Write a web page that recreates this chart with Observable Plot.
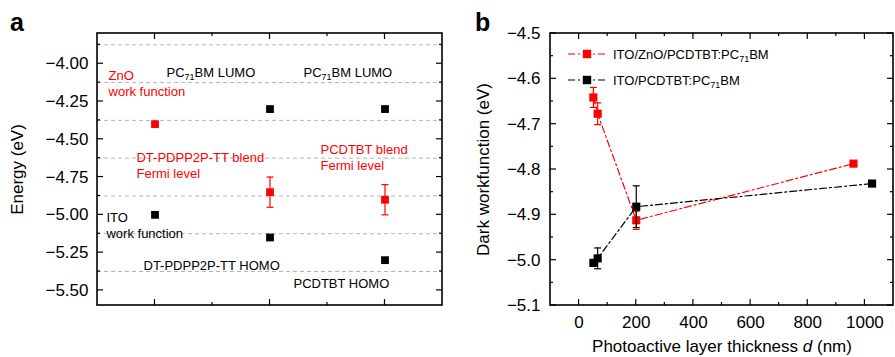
<!DOCTYPE html>
<html><head><meta charset="utf-8">
<script src="https://cdn.jsdelivr.net/npm/d3@7"></script>
<script src="https://cdn.jsdelivr.net/npm/@observablehq/plot@0.6"></script>
<style>
html,body{margin:0;padding:0;background:#fff;}
#wrap{width:895px;height:357px;overflow:hidden;}
</style></head><body><div id="wrap"></div>
<script>
// ---------- Panel a data ----------
const blackX = [1, 2, 2, 3, 3];
const blackE = [-5.00, -4.30, -5.15, -4.30, -5.30];
const redX = [1, 2, 3];
const redE = [-4.40, -4.85, -4.90];
const redErr = [0, 0.10, 0.10];
const energyDomain = [-5.6, -3.8];
const energyTicks = [-4.00, -4.25, -4.50, -4.75, -5.00, -5.25, -5.50];
const energyMinor = [-3.875, -4.125, -4.375, -4.625, -4.875, -5.125, -5.375];
const gridLevels = [-3.875, -4.125, -4.375, -4.625, -4.875, -5.125, -5.375];
const xDomainA = [0.5, 3.5];
const xMajorA = [1, 2, 3];
const xMinorA = [1.5, 2.5];
const labelsRed = [
  {text: "ZnO\nwork function", x: 0.596, y: -4.129},
  {text: "DT-PDPP2P-TT blend\nFermi level", x: 0.839, y: -4.671},
  {text: "PCDTBT blend\nFermi level", x: 2.439, y: -4.618}
];
const labelsBlack = [
  {text: "PC71BM LUMO", x: 1.100, y: -4.053},
  {text: "PC71BM LUMO", x: 2.291, y: -4.053},
  {text: "ITO\nwork function", x: 0.578, y: -5.067},
  {text: "DT-PDPP2P-TT HOMO", x: 0.900, y: -5.329},
  {text: "PCDTBT HOMO", x: 2.204, y: -5.449}
];

// ---------- Panel b data ----------
const thickRed = [50, 65, 200, 960];
const wfRed = [-4.641, -4.677, -4.912, -4.787];
const errRed = [0.022, 0.024, 0.02, 0];
const thickBlack = [50, 65, 200, 1025];
const wfBlack = [-5.006, -4.996, -4.882, -4.831];
const errBlack = [0, 0.023, 0.046, 0];
const thickDomain = [-100, 1100];
const wfDomain = [-5.1, -4.5];
const thickTicks = [0, 200, 400, 600, 800, 1000];
const thickMinor = [100, 300, 500, 700, 900];
const wfTicks = [-4.5, -4.6, -4.7, -4.8, -4.9, -5.0, -5.1];
const wfMinor = [-4.55, -4.65, -4.75, -4.85, -4.95, -5.05];
const seriesNames = ["ITO/ZnO/PCDTBT:PC71BM", "ITO/PCDTBT:PC71BM"];
const seriesColors = ["red", "black"];

const FONT = "'Liberation Sans', Arial, Helvetica, sans-serif";
const DASH = "7,3,2,3";
const capSymbol = {draw(ctx) { ctx.moveTo(-3.5, 0); ctx.lineTo(3.5, 0); }};

// Frame and inward ticks, placed with each plot's own scales, drawn in the outer svg
function decorate(outer, plot, offsetX, xMaj, xMin, yMaj, yMin) {
  const sx = plot.scale("x"), sy = plot.scale("y");
  const [x0, x1] = sx.range, [y0, y1] = sy.range;
  const L = Math.min(x0, x1), R = Math.max(x0, x1), T = Math.min(y0, y1), B = Math.max(y0, y1);
  const g = outer.append("g").attr("transform", `translate(${offsetX},0)`)
    .attr("stroke", "#000").attr("fill", "none");
  const seg = (a, b, c, d, w) => g.append("line").attr("x1", a).attr("y1", b).attr("x2", c).attr("y2", d).attr("stroke-width", w);
  [[xMaj, 6], [xMin, 3]].forEach(([vals, len]) => vals.forEach(v => {
    const x = sx.apply(v);
    seg(x, B, x, B - len, 1.2); seg(x, T, x, T + len, 1.2);
  }));
  [[yMaj, 6], [yMin, 3]].forEach(([vals, len]) => vals.forEach(v => {
    const y = sy.apply(v);
    seg(L, y, L + len, y, 1.2); seg(R, y, R - len, y, 1.2);
  }));
  g.append("rect").attr("x", L).attr("y", T).attr("width", R - L).attr("height", B - T).attr("stroke-width", 1.6);
}

function errData(xs, ys, es) {
  return xs.map((x, i) => ({x, y: ys[i], err: es[i]})).filter(d => d.err > 0);
}
function capData(xs, ys, es) {
  return errData(xs, ys, es).flatMap(d => [{x: d.x, y: d.y - d.err}, {x: d.x, y: d.y + d.err}]);
}

function richText(svg) {
  d3.select(svg).selectAll("text, tspan").each(function() {
    if (this.children.length) return;
    const s = this.textContent;
    const sel = d3.select(this);
    if (s.includes("PC71BM")) {
      const i = s.indexOf("PC71BM") + 2;
      this.textContent = "";
      sel.append("tspan").text(s.slice(0, i));
      sel.append("tspan").attr("dy", 3).attr("font-size", 9).text("71");
      sel.append("tspan").attr("dy", -3).text(s.slice(i + 2));
    } else if (s.includes(" d (nm)")) {
      const i = s.indexOf(" d (nm)");
      this.textContent = "";
      sel.append("tspan").text(s.slice(0, i + 1));
      sel.append("tspan").attr("font-style", "italic").text("d");
      sel.append("tspan").text(s.slice(i + 2));
    }
  });
}

const outer = d3.select("#wrap").append("svg")
  .attr("width", 895).attr("height", 357).attr("viewBox", "0 0 895 357")
  .style("display", "block").style("background", "white")
  .attr("font-family", FONT);
outer.append("rect").attr("width", 895).attr("height", 357).attr("fill", "white");

// ---------- Panel a ----------
const blackA = blackX.map((x, i) => ({x, y: blackE[i]}));
const redA = redX.map((x, i) => ({x, y: redE[i]}));
const plotA = Plot.plot({
  width: 450, height: 357,
  marginTop: 33, marginRight: 8, marginBottom: 52, marginLeft: 97,
  x: {domain: xDomainA, axis: null},
  y: {domain: energyDomain},
  style: {fontFamily: FONT, fontSize: "13px", color: "black"},
  marks: [
    Plot.ruleY(gridLevels, {stroke: "#b5b5b5", strokeDasharray: "4,3", strokeWidth: 1}),
    Plot.axisY(energyTicks, {tickSize: 0, tickPadding: 9, tickFormat: d3.format(".2f"), fontSize: 17, label: null}),
    Plot.ruleX(errData(redX, redE, redErr), {x: "x", y1: d => d.y - d.err, y2: d => d.y + d.err, stroke: "red", strokeWidth: 1.2}),
    Plot.dot(capData(redX, redE, redErr), {x: "x", y: "y", symbol: capSymbol, stroke: "red", fill: "none", strokeWidth: 1.2}),
    Plot.dot(blackA, {x: "x", y: "y", symbol: "square", r: 4.4, fill: "black"}),
    Plot.dot(redA, {x: "x", y: "y", symbol: "square", r: 4.4, fill: "red"}),
    Plot.text(labelsRed, {x: "x", y: "y", text: "text", fill: "red", textAnchor: "start", fontSize: 13, lineHeight: 1.2}),
    Plot.text(labelsBlack, {x: "x", y: "y", text: "text", fill: "black", textAnchor: "start", fontSize: 13, lineHeight: 1.2}),
    Plot.text(["Energy (eV)"], {frameAnchor: "left", textAnchor: "middle", lineAnchor: "middle", dx: -80, rotate: -90, fontSize: 17, fill: "black"})
  ]
});
richText(plotA);
d3.select(plotA).attr("x", 0).attr("y", 0);
outer.node().appendChild(plotA);

// ---------- Panel b ----------
const redB = thickRed.map((x, i) => ({x, y: wfRed[i]}));
const blackB = thickBlack.map((x, i) => ({x, y: wfBlack[i]}));
const plotB = Plot.plot({
  width: 445, height: 357,
  marginTop: 33, marginRight: 2, marginBottom: 52, marginLeft: 100,
  x: {domain: thickDomain},
  y: {domain: wfDomain},
  style: {fontFamily: FONT, fontSize: "13px", color: "black"},
  marks: [
    Plot.axisY(wfTicks, {tickSize: 0, tickPadding: 10, tickFormat: d3.format(".1f"), fontSize: 17, label: null}),
    Plot.axisX(thickTicks, {tickSize: 0, tickPadding: 10, tickFormat: d3.format("d"), fontSize: 17, label: null}),
    Plot.line(redB, {x: "x", y: "y", stroke: "red", strokeWidth: 1.2, strokeDasharray: DASH}),
    Plot.ruleX(errData(thickRed, wfRed, errRed), {x: "x", y1: d => d.y - d.err, y2: d => d.y + d.err, stroke: "red", strokeWidth: 1.2}),
    Plot.dot(capData(thickRed, wfRed, errRed), {x: "x", y: "y", symbol: capSymbol, stroke: "red", fill: "none", strokeWidth: 1.2}),
    Plot.dot(redB, {x: "x", y: "y", symbol: "square", r: 4.6, fill: "red"}),
    Plot.line(blackB, {x: "x", y: "y", stroke: "black", strokeWidth: 1.2, strokeDasharray: DASH}),
    Plot.ruleX(errData(thickBlack, wfBlack, errBlack), {x: "x", y1: d => d.y - d.err, y2: d => d.y + d.err, stroke: "black", strokeWidth: 1.2}),
    Plot.dot(capData(thickBlack, wfBlack, errBlack), {x: "x", y: "y", symbol: capSymbol, stroke: "black", fill: "none", strokeWidth: 1.2}),
    Plot.dot(blackB, {x: "x", y: "y", symbol: "square", r: 4.6, fill: "black"}),
    Plot.text(["Dark workfunction (eV)"], {frameAnchor: "left", textAnchor: "middle", lineAnchor: "middle", dx: -67, rotate: -90, fontSize: 17, fill: "black"}),
    Plot.text(["Photoactive layer thickness d (nm)"], {frameAnchor: "bottom", textAnchor: "middle", lineAnchor: "middle", dy: 41, fontSize: 17, fill: "black"})
  ]
});
richText(plotB);
d3.select(plotB).attr("x", 450).attr("y", 0);
outer.node().appendChild(plotB);

// frames and ticks
decorate(outer, plotA, 0, xMajorA, xMinorA, energyTicks, energyMinor);
decorate(outer, plotB, 450, thickTicks, thickMinor, wfTicks, wfMinor);

// panel letters
outer.append("text").attr("x", 10).attr("y", 31).attr("text-anchor", "start")
  .attr("font-size", 25).attr("font-weight", "bold").attr("fill", "black").text("a");
outer.append("text").attr("x", 475).attr("y", 31).attr("text-anchor", "start")
  .attr("font-size", 25).attr("font-weight", "bold").attr("fill", "black").text("b");

// legend of panel b
const leg = outer.append("g").attr("transform", "translate(450,0)").attr("font-size", 13).attr("text-anchor", "start");
seriesNames.forEach((name, i) => {
  const y = 54 + i * 26;
  leg.append("line").attr("x1", 118).attr("x2", 156).attr("y1", y).attr("y2", y)
    .attr("stroke", seriesColors[i]).attr("stroke-width", 1.2).attr("stroke-dasharray", DASH);
  leg.append("rect").attr("x", 137 - 4.2).attr("y", y - 4.2).attr("width", 8.4).attr("height", 8.4).attr("fill", seriesColors[i]);
  leg.append("text").attr("x", 163).attr("y", y).attr("dy", "0.35em").attr("fill", "black").text(name);
});
richText(leg.node());
</script></body></html>
